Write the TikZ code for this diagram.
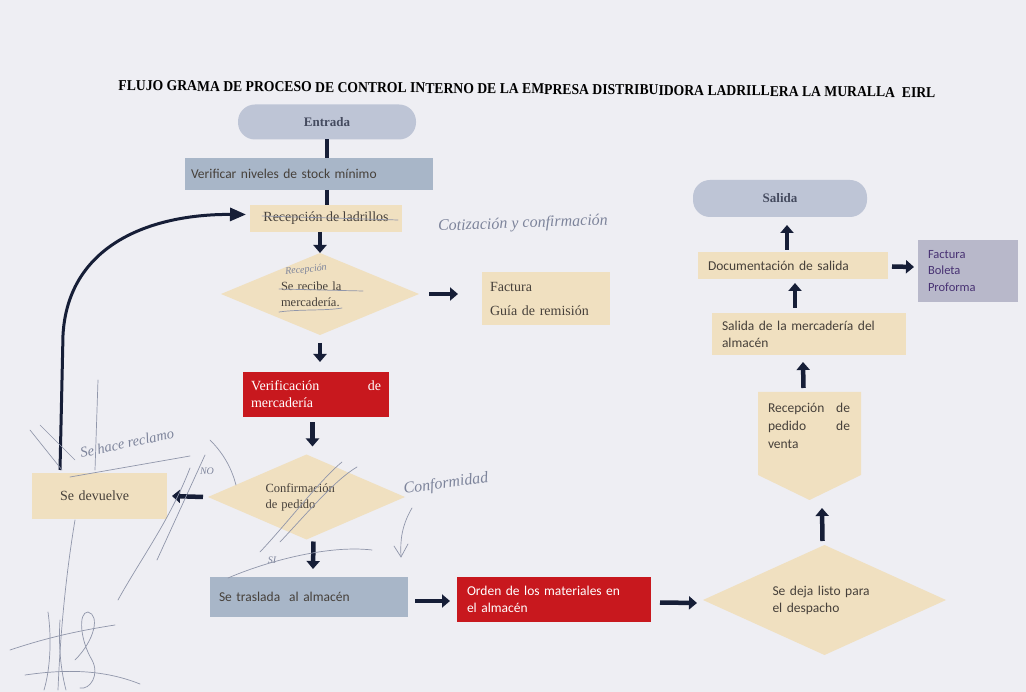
\documentclass[tikz,border=0pt]{standalone}
\usepackage{graphicx}
\usepackage{fontspec}
\setmainfont{Liberation Serif}
\newfontfamily\carl{Carlito}
\usetikzlibrary{shapes.geometric,arrows.meta,calc}
\definecolor{paper}{RGB}{238,238,243}
\definecolor{beige}{RGB}{240,224,192}
\definecolor{bluegray}{RGB}{168,182,200}
\definecolor{stad}{RGB}{190,197,214}
\definecolor{redfill}{RGB}{200,24,30}
\definecolor{lav}{RGB}{184,184,202}
\definecolor{navy}{RGB}{22,30,55}
\definecolor{pencil}{RGB}{125,132,155}
\definecolor{boxtxt}{RGB}{70,64,58}
\definecolor{purptxt}{RGB}{72,50,115}
\newcommand{\spreadtxt}[2]{\makebox[#1][s]{#2}}
\tikzset{
  base/.style={inner sep=0pt, outer sep=0pt},
  beigebox/.style={base, rectangle, fill=beige, text=boxtxt},
  bluebox/.style={base, rectangle, fill=bluegray, text=boxtxt},
  redbox/.style={base, rectangle, fill=redfill, text=white},
  lavbox/.style={base, rectangle, fill=lav, text=purptxt},
  stadium/.style={base, rectangle, rounded corners=17pt, fill=stad, text=navy!80,
    font=\fontsize{13}{15}\selectfont\bfseries},
  decision/.style={base, diamond, shape aspect=2.4, fill=beige, text=boxtxt},
  arr/.style={draw=navy, line width=4.5pt, -{Triangle[length=8pt,width=13pt]}},
  bar/.style={draw=navy, line width=4pt},
  curvearr/.style={draw=navy, line width=3pt, -{Triangle[length=16pt,width=13pt]}},
  serif/.style={font=\fontsize{14}{17}\selectfont},
  serifsm/.style={font=\fontsize{12.5}{16}\selectfont},
  sans/.style={font=\carl\fontsize{13.5}{17}\selectfont},
  hand/.style={base, text=pencil, font=\itshape\fontsize{16}{18}\selectfont},
  handsm/.style={base, text=pencil, font=\itshape\fontsize{10}{12}\selectfont},
  pencilline/.style={draw=pencil!85, line width=0.7pt, line cap=round},
}
\begin{document}
\begin{tikzpicture}[x=1pt,y=-1pt]
\useasboundingbox (0,0) rectangle (1026,692);
\fill[paper] (0,0) rectangle (1026,692);

% title
\node[base, rotate=-0.5, text=black] (title) at (527,89)
  {\resizebox{817pt}{10pt}{\bfseries FLUJO GRAMA DE PROCESO DE CONTROL INTERNO DE LA EMPRESA DISTRIBUIDORA LADRILLERA LA MURALLA\ \ EIRL}};

% left column
\node[stadium, minimum width=178pt, minimum height=35pt] (entrada) at (327,122) {Entrada};
\node[bluebox, sans, minimum height=32pt, text width=236pt, inner xsep=6pt, align=left] (verif) at (309,174) {Verificar niveles de stock mínimo};
\node[beigebox, serif, minimum width=152pt, minimum height=27pt] (recep) at (326,218.5) {Recepción de ladrillos};
\node[decision, serifsm, minimum width=198pt, minimum height=82pt, text width=78pt, align=left] (recibe) at (320,294) {\spreadtxt{78pt}{Se recibe la}\\mercadería.};
\node[beigebox, serif, minimum height=53pt, text width=112pt, inner xsep=8pt, align=left] (factura) at (546,298.5) {Factura\\[7pt]Guía de remisión};
\node[redbox, serif, minimum height=45pt, text width=130pt, inner xsep=8pt, align=left] (verifm) at (316,394.5) {\spreadtxt{130pt}{Verificación\hfill de}\\mercadería};
\node[decision, serifsm, minimum width=197pt, minimum height=85pt, text width=82pt, align=left] (confir) at (306.5,497) {Confirmación\\de pedido};
\node[beigebox, serif, minimum height=46pt, text width=79pt, inner xsep=28pt, align=left] (devuelve) at (99.5,496) {Se devuelve};
\node[bluebox, sans, minimum height=40pt, text width=180pt, inner xsep=9pt, align=left] (traslada) at (309,597) {Se traslada\ \ al almacén};
\node[redbox, sans, minimum height=45pt, text width=174pt, inner xsep=10pt, align=left] (orden) at (554,599.5) {Orden de los materiales en\\el almacén};
\node[decision, sans, minimum width=243pt, minimum height=110pt, text width=104pt, align=left] (despacho) at (824.5,600) {Se deja listo para\\el despacho};

% right column
\node[base, minimum width=103pt, minimum height=83pt] (rped) at (809.5,433.5) {};
\coordinate (rpedtip) at ($(rped.south)+(0,25)$);
\fill[beige] (rped.north west) -- (rped.north east) -- (rped.south east) -- (rpedtip) -- (rped.south west) -- cycle;
\node[base, sans, text=boxtxt, anchor=north west, text width=82pt, align=left, font=\carl\fontsize{13.5}{18}\selectfont] (rpedtxt) at ($(rped.north west)+(10,11)$)
  {\spreadtxt{82pt}{Recepción\hfill de}\\\spreadtxt{82pt}{pedido\hfill de}\\venta};
\node[beigebox, sans, minimum height=42pt, text width=174pt, inner xsep=10pt, align=left] (salidam) at (809,334) {\spreadtxt{174pt}{Salida de la mercadería del}\\almacén};
\node[beigebox, sans, minimum height=27pt, text width=170pt, inner xsep=10pt, align=left] (docsal) at (793,265.5) {Documentación de salida};
\node[lavbox, minimum height=62pt, text width=80pt, inner xsep=10pt, align=left, font=\carl\fontsize{12.5}{16.5}\selectfont] (fbp) at (968,271) {Factura\\Boleta\\Proforma};
\node[stadium, minimum width=174pt, minimum height=37pt] (salida) at (780,198.5) {Salida};

% connectors
\draw[bar] (entrada.south) -- (entrada.south |- verif.north);
\draw[bar] (entrada.south |- verif.south) -- (entrada.south |- recep.north);
\draw[arr] (recibe.north |- recep.south) -- (recibe.north);
\draw[arr] ($(recibe.east)+(10,0)$) -- ($(factura.west |- recibe.east)+(-24,0)$);
\draw[arr] ($(recibe.south)+(0,8)$) -- ($(verifm.north -| recibe.south)+(0,-10)$);
\draw[arr] ($(confir.north)+(6,-32)$) -- ($(confir.north)+(6,-8)$);
\draw[arr] ($(confir.west)+(-5,0)$) -- ($(devuelve.east)+(5,0)$);
\draw[arr] ($(confir.south)+(7,2)$) -- ($(traslada.north)+(4,-8)$);
\draw[arr] ($(traslada.east)+(7,4)$) -- ($(orden.west)+(-7,1.5)$);
\draw[arr] ($(orden.east)+(9,3)$) -- ($(despacho.west)+(-6,3)$);
\draw[arr] ($(despacho.north)+(-2,-4)$) -- ($(rpedtip)+(12.5,8)$);
\draw[arr] ($(rped.north)+(-6,-4)$) -- ($(salidam.south)+(-6,7)$);
\draw[arr] ($(salidam.north)+(-14,-5)$) -- ($(docsal.south)+(2,4)$);
\draw[arr] ($(docsal.east)+(4,1)$) -- ($(fbp.west)+(-4,-4)$);
\draw[arr] ($(docsal.north)+(-6,-2)$) -- ($(salida.south)+(7,8)$);
\draw[curvearr] ($(devuelve.north west)+(28,-3)$) -- (63,335) .. controls (68,245) and (150,214) .. ($(recep.west)+(-4,-4)$);

% handwritten notes
\node[hand, rotate=2] (hcot) at (523,224) {Cotización y confirmación};
\node[handsm, rotate=6] (hrec) at (306,270) {Recepción};
\node[hand, rotate=12, font=\itshape\fontsize{14.5}{16}\selectfont] (hrecl) at (127,443) {Se hace reclamo};
\node[handsm] (hno) at (207,471) {NO};
\node[handsm] (hsi) at (272,560) {SI};
\node[hand, rotate=8] (hconf) at (446,484) {Conformidad};

% pencil marks
\draw[pencilline] (262,216) -- (398,220);
\draw[pencilline] (279,289) -- (363,291);
\draw[pencilline] (279,312) .. controls (300,309) and (325,311) .. (342,308);
\draw[pencilline] (70,477) -- (190,456);
\draw[pencilline] (157,560) -- (205,455);
\draw[pencilline] (118,600) .. controls (140,560) and (170,520) .. (190,468);
\draw[pencilline] (260,552) .. controls (290,520) and (320,480) .. (342,462);
\draw[pencilline] (280,542) .. controls (310,510) and (335,480) .. (357,467);
\draw[pencilline] (228,578) .. controls (270,560) and (330,545) .. (372,550);
\draw[pencilline] (412,508) .. controls (402,525) and (400,540) .. (401,556);
\draw[pencilline] (394,546) -- (401,557) -- (408,544);
\draw[pencilline] (98,380) -- (95,470);
\draw[pencilline] (30,430) -- (62,470);
\draw[pencilline] (40,425) -- (75,460);
\draw[pencilline] (210,440) .. controls (225,455) and (232,470) .. (236,485);
\draw[pencilline] (75,520) .. controls (65,580) and (60,640) .. (58,690);
% signature
\draw[pencilline] (10,650) .. controls (40,640) and (70,632) .. (115,625);
\draw[pencilline] (48,612) .. controls (52,640) and (50,670) .. (44,690);
\draw[pencilline] (60,620) .. controls (58,650) and (62,675) .. (66,690);
\draw[pencilline] (75,660) .. controls (95,640) and (100,615) .. (88,612) .. controls (78,612) and (80,640) .. (92,660) .. controls (100,675) and (90,690) .. (80,688);
\draw[pencilline] (25,675) .. controls (60,670) and (100,668) .. (140,684);
\end{tikzpicture}
\end{document}
